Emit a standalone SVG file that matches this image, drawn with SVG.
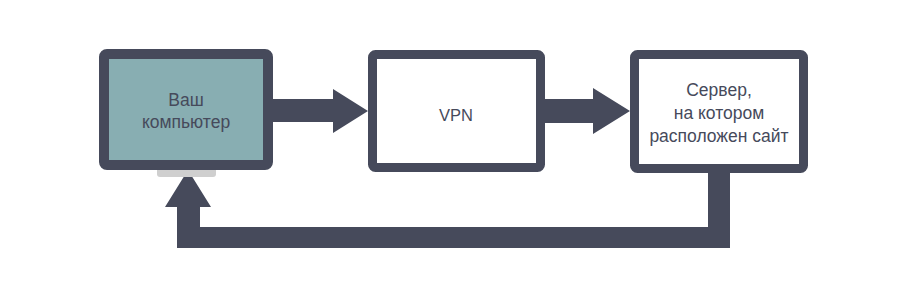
<svg xmlns="http://www.w3.org/2000/svg" width="904" height="285" viewBox="0 0 904 285">
<style>
.box{fill:#ffffff;stroke:#464a5b;stroke-width:9}
.pc{fill:#88aeb2;stroke:#464a5b;stroke-width:10}
.arr{fill:#464a5b}
.t{font-family:"Liberation Sans",Arial,sans-serif;font-size:17.5px;fill:#464a5b;text-anchor:middle}
.v{font-size:16.5px}
</style>
<rect width="904" height="285" fill="#ffffff"/>
<g id="connectors">
<polygon class="arr" points="273,99 333,99 333,89 368,111 333,133 333,122 273,122"/>
<polygon class="arr" points="545,99 593,99 593,88 630,111 593,134 593,123 545,123"/>
<polygon class="arr" points="708,172 730,172 730,248 177,248 177,207 165,207 188,170 211,207 200,207 200,227 708,227"/>
</g>
<g id="computer">
<rect x="157" y="163" width="59" height="14" rx="3" fill="#cfcfcf"/>
<rect class="pc" x="104" y="54" width="164" height="111" rx="3"/>
<text class="t" x="186" y="106">Ваш</text>
<text class="t" x="186" y="128">компьютер</text>
</g>
<g id="vpn">
<rect class="box" x="372.5" y="54.5" width="168" height="113" rx="3"/>
<text class="t v" x="456" y="121">VPN</text>
</g>
<g id="server">
<rect class="box" x="634.5" y="54.5" width="169" height="114" rx="3"/>
<text class="t" x="719" y="96">Сервер,</text>
<text class="t" x="719" y="119">на котором</text>
<text class="t" x="719" y="142">расположен сайт</text>
</g>
</svg>
